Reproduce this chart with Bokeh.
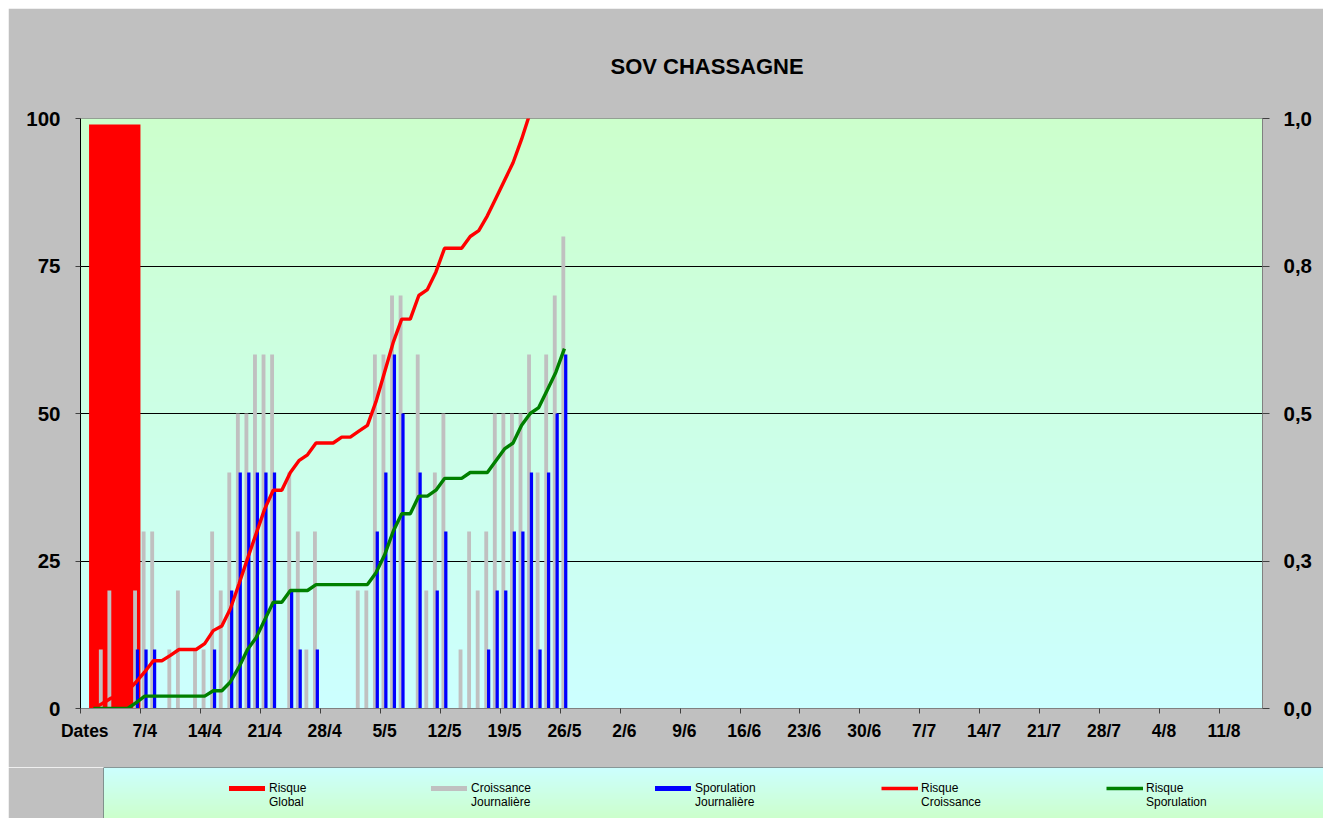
import numpy as np
import pandas as pd
from bokeh.plotting import figure
from bokeh.models import Range1d, LinearAxis, FixedTicker, Legend, LegendItem, Span
from bokeh.layouts import column
from bokeh.embed import file_html
from bokeh.resources import INLINE

FONT = "Liberation Sans"

# ---------------- data ----------------
axis_start = pd.Timestamp("2007-03-31")        # first category, labelled "Dates"
axis_end = pd.Timestamp("2007-08-15")          # last category on the axis
dates = pd.date_range("2007-04-01", "2007-05-26")

croissance = [0, 10, 20, 0, 0, 20, 30, 30, 0, 10, 20, 0, 10, 10, 30, 20, 40, 50, 50, 60,
              60, 60, 0, 40, 30, 10, 30, 0, 0, 0, 0, 20, 20, 60, 60, 70, 70, 0, 60, 20,
              40, 50, 0, 10, 30, 20, 30, 50, 50, 50, 50, 60, 40, 60, 70, 80]
sporulation = [0, 0, 0, 0, 0, 10, 10, 10, 0, 0, 0, 0, 0, 0, 10, 0, 20, 40, 40, 40,
               40, 40, 0, 20, 10, 0, 10, 0, 0, 0, 0, 0, 0, 30, 40, 60, 50, 0, 40, 0,
               20, 30, 0, 0, 0, 0, 10, 20, 20, 30, 30, 40, 10, 40, 50, 60]
risque_croissance = [0.0, 0.008, 0.017, 0.022, 0.03, 0.045, 0.062, 0.081, 0.081, 0.09,
                     0.10, 0.10, 0.10, 0.11, 0.132, 0.14, 0.169, 0.211, 0.254, 0.296,
                     0.338, 0.37, 0.37, 0.40, 0.42, 0.43, 0.45, 0.45, 0.45, 0.46,
                     0.46, 0.47, 0.48, 0.52, 0.57, 0.62, 0.66, 0.66, 0.70, 0.71,
                     0.74, 0.78, 0.78, 0.78, 0.80, 0.81, 0.835, 0.865, 0.895, 0.925,
                     0.965, 1.01, 1.06, 1.11, 1.16, 1.21]
risque_sporulation = [0.0, 0.0, 0.0, 0.0, 0.0, 0.01, 0.021, 0.021, 0.021, 0.021,
                      0.021, 0.021, 0.021, 0.021, 0.03, 0.03, 0.045, 0.07, 0.10, 0.12,
                      0.15, 0.18, 0.18, 0.20, 0.20, 0.20, 0.21, 0.21, 0.21, 0.21,
                      0.21, 0.21, 0.21, 0.23, 0.26, 0.30, 0.33, 0.33, 0.36, 0.36,
                      0.37, 0.39, 0.39, 0.39, 0.40, 0.40, 0.40, 0.42, 0.44, 0.45,
                      0.48, 0.50, 0.51, 0.54, 0.57, 0.61]
risque_global = [0.99]
global_period = pd.date_range("2007-04-01", "2007-04-06")

tick_labels = ["Dates", "7/4", "14/4", "21/4", "28/4", "5/5", "12/5", "19/5", "26/5",
               "2/6", "9/6", "16/6", "23/6", "30/6", "7/7", "14/7", "21/7", "28/7",
               "4/8", "11/8"]
left_ticks = [0, 25, 50, 75, 100]
right_ticks = [0, 0.25, 0.5, 0.75, 1.0]
right_labels = ["0,0", "0,3", "0,5", "0,8", "1,0"]

legend_labels = [("Risque", "Global"), ("Croissance", "Journalière"),
                 ("Sporulation", "Journalière"), ("Risque", "Croissance"),
                 ("Risque", "Sporulation")]

# ---------------- derived positions ----------------
n_cat = (axis_end - axis_start).days + 1
days = np.array((dates - axis_start).days, dtype=float)
g_days = np.array((global_period - axis_start).days, dtype=float)
g_center = [g_days.mean()]
g_width = g_days.max() - g_days.min() + 1
tick_pos = list(range(0, 7 * len(tick_labels), 7))
minor_pos = [t - 0.5 for t in range(0, n_cat + 7, 7)]

RED, GRAY, BLUE, GREEN = "#FF0000", "#C0C0C0", "#0000FF", "#008000"
BG = "#C0C0C0"


def gradient(rows, bottom_rgb, top_rgb):
    t = np.linspace(0, 1, rows)[:, None]
    img = np.empty((rows, 1), dtype=np.uint32)
    v = img.view(dtype=np.uint8).reshape((rows, 1, 4))
    for c in range(3):
        v[:, :, c] = np.round(bottom_rgb[c] + t * (top_rgb[c] - bottom_rgb[c])).astype(np.uint8)
    v[:, :, 3] = 255
    return img


def no_align(fig):
    if "frame_align" in fig.properties():
        fig.frame_align = False


# ---------------- main chart ----------------
p = figure(width=1315, height=759, x_range=Range1d(-0.5, n_cat - 0.5), y_range=Range1d(0, 100),
           output_backend="svg", toolbar_location=None,
           min_border_left=72, min_border_right=61, min_border_top=110, min_border_bottom=59,
           border_fill_color=BG, background_fill_color="#CCFFFF",
           outline_line_color="#808080", outline_line_width=1)
no_align(p)
p.extra_y_ranges = {"risk": Range1d(0, 1)}

p.image_rgba(image=[gradient(300, (204, 255, 255), (204, 255, 204))],
             x=-0.5, y=0, dw=n_cat, dh=100, level="image")

p.xgrid.visible = False
p.ygrid.ticker = FixedTicker(ticks=[25, 50, 75])
p.ygrid.grid_line_color = "#000000"
p.ygrid.grid_line_width = 1

# bars
p.vbar(x=g_center, top=risque_global, width=g_width, y_range_name="risk",
       fill_color=RED, line_color=None)
p.vbar(x=days - 0.13, top=croissance, width=0.45, fill_color=GRAY, line_color=None)
p.vbar(x=days + 0.15, top=sporulation, width=0.38, fill_color=BLUE, line_color=None)
# lines
p.line(x=days, y=risque_croissance, y_range_name="risk", line_color=RED, line_width=3.4)
p.line(x=days, y=risque_sporulation, y_range_name="risk", line_color=GREEN, line_width=3.4)

# axes
xa = p.xaxis[0]
xa.ticker = FixedTicker(ticks=tick_pos, minor_ticks=minor_pos)
xa.major_label_overrides = {t: l for t, l in zip(tick_pos, tick_labels)}
xa.major_tick_out = 0
xa.major_tick_in = 0
xa.minor_tick_out = 5
xa.minor_tick_in = 0
xa.minor_tick_line_color = "#404040"
xa.axis_line_color = "#808080"
xa.major_label_standoff = 7
xa.major_label_text_font = FONT
xa.major_label_text_font_style = "bold"
xa.major_label_text_font_size = "17.5px"
xa.major_label_text_color = "#000000"

ya = p.yaxis[0]
ya.ticker = FixedTicker(ticks=left_ticks)
ya.major_tick_out = 5
ya.major_tick_in = 0
ya.minor_tick_out = 0
ya.minor_tick_in = 0
ya.axis_line_color = "#000000"
ya.major_tick_line_color = "#404040"
ya.major_label_standoff = 15
ya.major_label_text_font = FONT
ya.major_label_text_font_style = "bold"
ya.major_label_text_font_size = "20.5px"
ya.major_label_text_color = "#000000"

ra = LinearAxis(y_range_name="risk", ticker=FixedTicker(ticks=right_ticks),
                major_label_overrides={t: l for t, l in zip(right_ticks, right_labels)})
ra.major_tick_out = 7
ra.major_tick_in = 0
ra.minor_tick_out = 0
ra.minor_tick_in = 0
ra.axis_line_color = "#808080"
ra.major_tick_line_color = "#404040"
ra.major_label_standoff = 14
ra.major_label_text_font = FONT
ra.major_label_text_font_style = "bold"
ra.major_label_text_font_size = "20.5px"
ra.major_label_text_color = "#000000"
p.add_layout(ra, "right")

p.title.text = "SOV  CHASSAGNE"
p.title.text_font = FONT
p.title.text_font_style = "bold"
p.title.text_font_size = "22px"
p.title.text_color = "#000000"
p.title.align = "left"
p.title.offset = 530
p.title.standoff = 79

# ---------------- legend panel ----------------
lg = figure(width=1315, height=51, x_range=Range1d(0, 1), y_range=Range1d(0, 1),
            output_backend="svg", toolbar_location=None, x_axis_type=None, y_axis_type=None,
            min_border_left=95, min_border_right=0, min_border_top=0, min_border_bottom=0,
            border_fill_color=BG, background_fill_color="#CCFFFF", outline_line_color=None)
no_align(lg)
lg.xgrid.visible = False
lg.ygrid.visible = False
lg.image_rgba(image=[gradient(60, (204, 255, 204), (204, 255, 255))],
              x=0, y=0, dw=1, dh=1, level="image")
lg.add_layout(Span(location=0, dimension="height", line_color="#303030", line_width=1))
lg.add_layout(Span(location=1, dimension="width", line_color="#303030", line_width=1))

# legend proxies (no visible data, only their styles are used by the legend)
nan1 = [np.nan]
d_global = lg.vbar(x=nan1, top=nan1, width=1, fill_color=RED, line_color=None)
d_crois = lg.vbar(x=nan1, top=nan1, width=1, fill_color=GRAY, line_color=None)
d_spor = lg.vbar(x=nan1, top=nan1, width=1, fill_color=BLUE, line_color=None)
d_rc = lg.line(x=nan1 * 2, y=nan1 * 2, line_color=RED, line_width=3.5)
d_rs = lg.line(x=nan1 * 2, y=nan1 * 2, line_color=GREEN, line_width=3.5)
d_blank = lg.vbar(x=nan1, top=nan1, width=1, fill_alpha=0, line_alpha=0)

legend_specs = [(d_global, 121, 45, 0), (d_crois, 323, 45, 0), (d_spor, 547, 45, 0),
                (d_rc, 778, 37, 3), (d_rs, 1003, 37, 3)]
for (rend, vx, gw, stand), (l1, l2) in zip(legend_specs, legend_labels):
    leg = Legend(items=[LegendItem(label=l1, renderers=[rend]),
                        LegendItem(label=l2, renderers=[d_blank])],
                 location=(vx, 9),
                 orientation="vertical", padding=0, margin=0, spacing=0,
                 glyph_width=gw, glyph_height=6, label_standoff=stand,
                 label_height=14, label_width=10,
                 label_text_font=FONT, label_text_font_size="12px", label_text_color="#000000",
                 background_fill_alpha=0, border_line_alpha=0)
    lg.add_layout(leg, "center")

page = column(p, lg, spacing=0)
page.margin = (8, 0, 0, 8)
open("out.html", "w").write(file_html(page, INLINE))
